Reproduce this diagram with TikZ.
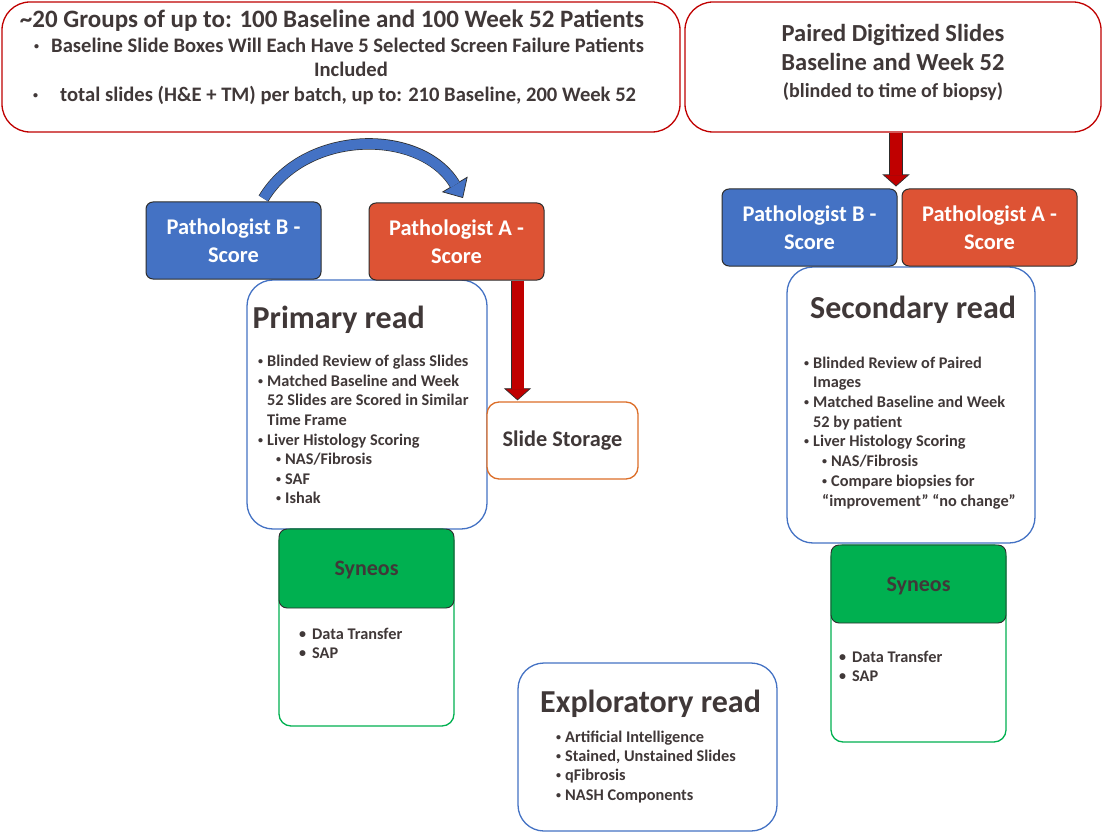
\documentclass[tikz,border=0pt]{standalone}
\usepackage{fontspec}
\setmainfont{Carlito}
\usetikzlibrary{arrows.meta}
\usetikzlibrary{positioning}
\definecolor{mblue}{RGB}{68,114,196}
\definecolor{morange}{RGB}{221,83,52}
\definecolor{mred}{RGB}{192,0,0}
\definecolor{mgreen}{RGB}{0,176,80}
\definecolor{mtext}{RGB}{64,56,56}
\definecolor{medge}{RGB}{45,45,45}
\definecolor{mstore}{RGB}{220,110,40}
\newcommand{\dotmark}[2][10]{\raisebox{#2}{\fontsize{#1}{#1}\selectfont\textbullet}}
\newcommand{\bl}{\makebox[9pt][l]{\dotmark{2pt}}}
\newcommand{\hg}{\hspace*{9pt}}
\tikzset{
  panel/.style={draw=#1, line width=1.3pt, rounded corners=26pt, fill=white, inner sep=0pt},
  scorebox/.style={draw=medge, line width=1pt, fill=#1, rounded corners=7pt, text=white, align=center,
    font=\fontsize{22.4}{28}\selectfont\bfseries, minimum width=175pt, minimum height=77pt, inner sep=0pt},
  headbox/.style={draw=medge, line width=0.9pt, fill=mgreen, rounded corners=8pt, minimum width=175pt,
    text=mtext, font=\fontsize{22}{26}\selectfont\bfseries, text height=14pt, text depth=0pt, inner sep=0pt},
  toptext/.style={text=mtext, inner sep=0pt, anchor=base},
  titletext/.style={text=mtext, font=\fontsize{32}{38}\selectfont\bfseries, inner sep=0pt, anchor=base west},
  bodytext/.style={text=mtext, font=\fontsize{16.3}{#1}\selectfont\bfseries, align=left, inner sep=0pt, anchor=north west},
  redouter/.style={draw=medge, line width=13.4pt, -{Triangle[length=12pt, width=27pt, fill=mred, line width=0.7pt]}},
  redinner/.style={draw=mred, line width=12pt, shorten >=11.3pt},
  blueouter/.style={draw=medge, line width=11.4pt, -{Triangle[length=16pt, width=30pt, fill=mblue, line width=0.7pt]}},
  blueinner/.style={draw=mblue, line width=10pt, shorten >=15.3pt},
}
\begin{document}
\begin{tikzpicture}[x=1pt, y=-1pt]
  \useasboundingbox (0,0) rectangle (1102,834);
  \fill[white] (0,0) rectangle (1102,834);

  \node[panel=mred, rounded corners=28pt, minimum width=678pt, minimum height=130pt] (groups) at (341,67) {};
  \node[toptext, font=\fontsize{25}{30}\selectfont\bfseries] (groupstitle) at (332,27.5)
    {\textasciitilde20 Groups of up to: 100 Baseline and 100 Week 52 Patients};
  \node[toptext, anchor=base west, font=\fontsize{20.6}{24}\selectfont\bfseries] (groupsline1) at (34,52.5)
    {\makebox[17pt][l]{\dotmark{3pt}}Baseline Slide Boxes Will Each Have 5 Selected Screen Failure Patients};
  \node[toptext, font=\fontsize{20.6}{24}\selectfont\bfseries] (groupsline2) at (351,76.5) {Included};
  \node[toptext, anchor=base west, font=\fontsize{20.6}{24}\selectfont\bfseries] (groupsline3) at (33,101.5)
    {\makebox[27pt][l]{\dotmark{3pt}}total slides (H\&E + TM) per batch, up to: 210 Baseline, 200 Week 52};

  \node[panel=mred, rounded corners=28pt, minimum width=416pt, minimum height=130pt] (paired) at (893,67) {};
  \node[toptext, font=\fontsize{24.5}{29}\selectfont\bfseries] (pairedline1) at (893,41.8) {Paired Digitized Slides};
  \node[toptext, font=\fontsize{24.5}{29}\selectfont\bfseries] (pairedline2) at (893,70.8) {Baseline and Week 52};
  \node[toptext, font=\fontsize{20}{24}\selectfont\bfseries] (pairedline3) at (893,97.4) {(blinded to time of biopsy)};

  \node[panel=mblue, minimum width=240pt, minimum height=249pt] (primary) at (367,404.5) {};
  \node[titletext] (primarytitle) at (252.5,328) {Primary read};
  \node[bodytext=19.6] (primarylist) at (258,355) {%
    \bl Blinded Review of glass Slides\\
    \bl Matched Baseline and Week\\
    \hg 52 Slides are Scored in Similar\\
    \hg Time Frame\\
    \bl Liver Histology Scoring\\
    \hg\hg\bl NAS/Fibrosis\\
    \hg\hg\bl SAF\\
    \hg\hg\bl Ishak};

  \node[panel=mblue, minimum width=248pt, minimum height=276pt] (secondary) at (911,405) {};
  \node[titletext] (secondarytitle) at (810,318) {Secondary read};
  \node[bodytext=19.7] (secondarylist) at (804,356.5) {%
    \bl Blinded Review of Paired\\
    \hg Images\\
    \bl Matched Baseline and Week\\
    \hg 52 by patient\\
    \bl Liver Histology Scoring\\
    \hg\hg\bl NAS/Fibrosis\\
    \hg\hg\bl Compare biopsies for\\
    \hg\hg “improvement” “no change”};

  \node[panel=mstore, rounded corners=12pt, minimum width=151pt, minimum height=77pt, text=mtext,
    font=\fontsize{22.3}{26}\selectfont\bfseries] (storage) at (562.5,440.5) {Slide Storage};

  \node[panel=mgreen, rounded corners=12pt, minimum width=175pt, minimum height=197pt] (syneosP) at (366.5,627.5) {};
  \node[headbox, minimum height=79pt] (syneosPhead) at (366.5,568.5) {Syneos};
  \node[bodytext=19] (syneosPlist) at (299,627.5) {\makebox[13pt][l]{\dotmark[14]{0.5pt}}Data Transfer\\ \makebox[13pt][l]{\dotmark[14]{0.5pt}}SAP};

  \node[panel=mgreen, rounded corners=12pt, minimum width=175pt, minimum height=197pt] (syneosS) at (918.5,643.5) {};
  \node[headbox, minimum height=78pt] (syneosShead) at (918.5,584) {Syneos};
  \node[bodytext=19] (syneosSlist) at (839,650.5) {\makebox[13pt][l]{\dotmark[14]{0.5pt}}Data Transfer\\ \makebox[13pt][l]{\dotmark[14]{0.5pt}}SAP};

  \node[panel=mblue, minimum width=259pt, minimum height=168pt] (explor) at (647.5,747) {};
  \node[titletext] (explortitle) at (540,712) {Exploratory read};
  \node[bodytext=19.4] (explorlist) at (556,730.5) {%
    \bl Artificial Intelligence\\
    \bl Stained, Unstained Slides\\
    \bl qFibrosis\\
    \bl NASH Components};

  \node[scorebox=mblue] (pathB) at (233.5,240.5) {Pathologist B -\\Score};
  \node[scorebox=morange] (pathA) at (456.5,241.5) {Pathologist A -\\Score};
  \node[scorebox=mblue] (pathBsec) at (809.5,227.5) {Pathologist B -\\Score};
  \node[scorebox=morange] (pathAsec) at (989.5,227.5) {Pathologist A -\\Score};

  \draw[blueouter] ([xshift=30pt,yshift=3pt]pathB.north) .. controls +(42,-70) and +(-42,-70) .. ([xshift=6.5pt,yshift=4.5pt]pathA.north);
  \draw[blueinner] ([xshift=30pt,yshift=3pt]pathB.north) .. controls +(42,-70) and +(-42,-70) .. ([xshift=6.5pt,yshift=4.5pt]pathA.north);

  \draw[redouter] ([xshift=61pt]pathA.south) -- ([xshift=-45pt,yshift=1pt]storage.north);
  \draw[redinner] ([xshift=61pt]pathA.south) -- ([xshift=-45pt,yshift=1pt]storage.north);

  \draw[redouter] ([xshift=3pt]paired.south) -- ([xshift=3pt,yshift=2pt]paired.south |- pathBsec.north);
  \draw[redinner] ([xshift=3pt]paired.south) -- ([xshift=3pt,yshift=2pt]paired.south |- pathBsec.north);
\end{tikzpicture}
\end{document}
